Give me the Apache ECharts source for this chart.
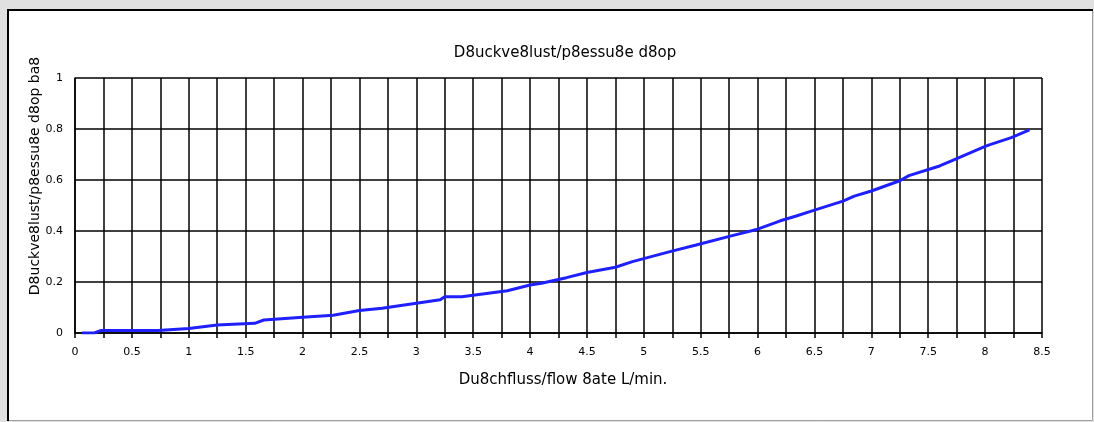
<!DOCTYPE html>
<html>
<head>
<meta charset="utf-8">
<script src="https://cdn.jsdelivr.net/npm/echarts@6/dist/echarts.min.js"></script>
<style>
html,body{margin:0;padding:0;background:#e0e0e0;}
#chart{width:1094px;height:422px;}
</style>
</head>
<body>
<div id="chart"></div>
<script>
var titleText = 'D8uckve8lust/p8essu8e d8op';
var yAxisTitle = 'D8uckve8lust/p8essu8e d8op ba8';
var xAxisTitle = 'Du8chfluss/flow 8ate L/min.';
var flowRate = [0.06, 0.17, 0.23, 0.73, 1.0, 1.25, 1.58, 1.66, 2.0, 2.27, 2.5, 2.7, 3.0, 3.21, 3.25, 3.4, 3.8, 4.0, 4.1, 4.32, 4.5, 4.75, 4.9, 5.23, 5.46, 5.76, 6.0, 6.2, 6.34, 6.5, 6.75, 6.85, 7.0, 7.25, 7.33, 7.6, 7.72, 7.98, 8.03, 8.23, 8.39];
var pressureDrop = [0, 0, 0.01, 0.01, 0.018, 0.031, 0.038, 0.051, 0.062, 0.07, 0.088, 0.097, 0.117, 0.130, 0.142, 0.142, 0.166, 0.188, 0.195, 0.217, 0.237, 0.258, 0.28, 0.319, 0.345, 0.38, 0.407, 0.44, 0.459, 0.482, 0.517, 0.537, 0.557, 0.597, 0.617, 0.655, 0.678, 0.728, 0.737, 0.766, 0.797];

var points = flowRate.map(function (x, i) { return [x, pressureDrop[i]]; });
var FONT = 'DejaVu Sans';
var chart = echarts.init(document.getElementById('chart'), null, {renderer: 'canvas'});
chart.setOption({
  backgroundColor: '#e0e0e0',
  animation: false,
  textStyle: {fontFamily: FONT},
  graphic: [
    {type: 'rect', z: -10, shape: {x: 7.5, y: 9.5, width: 1085, height: 411}, style: {fill: '#ffffff', stroke: '#a0a0a0', lineWidth: 1}},
    {type: 'polyline', z: -9, shape: {points: [[8, 421], [8, 10], [1093, 10]]}, style: {stroke: '#000', lineWidth: 2, fill: null}},
    {type: 'text', x: 35, y: 176, rotation: Math.PI / 2, style: {text: yAxisTitle, font: '14px "DejaVu Sans"', fill: '#000', align: 'center', verticalAlign: 'middle'}}
  ],
  title: {
    text: titleText, left: 560, top: 41, textAlign: 'center',
    textStyle: {fontFamily: FONT, fontSize: 15, fontWeight: 'normal', color: '#000'}
  },
  grid: {left: 75, right: 52, top: 78, bottom: 89, containLabel: false},
  xAxis: {
    type: 'value', min: 0, max: 8.5, interval: 0.5,
    name: xAxisTitle, nameLocation: 'middle', nameGap: 40,
    nameTextStyle: {fontFamily: FONT, fontSize: 15, color: '#000', padding: [0, 0, 0, 9]},
    axisLine: {lineStyle: {color: '#000', width: 1.5}},
    axisTick: {show: true, length: 5, lineStyle: {color: '#000', width: 1.5}},
    minorTick: {show: true, splitNumber: 2, length: 5, lineStyle: {color: '#000', width: 1.5}},
    axisLabel: {color: '#000', fontSize: 11, margin: 14, fontFamily: FONT},
    splitLine: {show: true, lineStyle: {color: '#000', width: 1.5}},
    minorSplitLine: {show: true, lineStyle: {color: '#000', width: 1.5}}
  },
  yAxis: {
    type: 'value', min: 0, max: 1, interval: 0.2,
    axisLine: {show: true, lineStyle: {color: '#000', width: 1.5}},
    axisTick: {show: false},
    axisLabel: {color: '#000', fontSize: 11, margin: 12, fontFamily: FONT},
    splitLine: {show: true, lineStyle: {color: '#000', width: 1.5}}
  },
  series: [{
    type: 'line', data: points, showSymbol: false, symbol: 'none',
    lineStyle: {color: '#2020ff', width: 3}, z: 5
  }]
});
</script>
</body>
</html>
